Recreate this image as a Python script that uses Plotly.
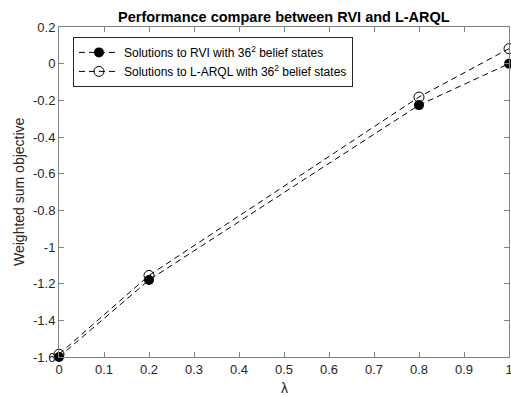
import plotly.graph_objects as go

lam = [0, 0.2, 0.8, 1.0]
rvi = [-1.60, -1.18, -0.226, 0.0]
larql = [-1.585, -1.155, -0.182, 0.082]
yticks = [-1.6, -1.4, -1.2, -1.0, -0.8, -0.6, -0.4, -0.2, 0, 0.2]
yticktext = ["-1.6", "-1.4", "-1.2", "-1", "-0.8", "-0.6", "-0.4", "-0.2", "0", "0.2"]
xticks = [0, 0.1, 0.2, 0.3, 0.4, 0.5, 0.6, 0.7, 0.8, 0.9, 1]
xticktext = ["0", "0.1", "0.2", "0.3", "0.4", "0.5", "0.6", "0.7", "0.8", "0.9", "1"]

FONT = "Liberation Sans, Arial"

fig = go.Figure()
fig.add_trace(go.Scatter(
    x=lam, y=rvi, mode="lines+markers",
    name="Solutions to RVI with 36<sup>2</sup> belief states",
    line=dict(color="black", width=1, dash="6px,4px"),
    marker=dict(symbol="circle", size=10, color="black"),
    cliponaxis=False,
))
fig.add_trace(go.Scatter(
    x=lam, y=larql, mode="lines+markers",
    name="Solutions to L-ARQL with 36<sup>2</sup> belief states",
    line=dict(color="black", width=1, dash="6px,4px"),
    marker=dict(symbol="circle-open", size=10, color="black", line=dict(width=1)),
    cliponaxis=False,
))

axis_common = dict(
    showline=True, linecolor="#808080", linewidth=1, mirror="ticks",
    ticks="inside", ticklen=5, tickcolor="#808080", showgrid=False, zeroline=False,
    automargin=False, ticklabeloverflow="allow",
    tickfont=dict(family=FONT, size=13, color="#262626"),
)

fig.update_layout(
    width=511, height=397,
    margin=dict(l=59, r=2, t=27, b=40),
    paper_bgcolor="white", plot_bgcolor="white",
    xaxis=dict(range=[0, 1], tickvals=xticks, ticktext=xticktext, **axis_common),
    yaxis=dict(range=[-1.6, 0.2], tickvals=yticks, ticktext=yticktext, **axis_common),
    legend=dict(x=0.031, y=0.97, xanchor="left", yanchor="top",
                bordercolor="#262626", borderwidth=1, bgcolor="white",
                font=dict(family=FONT, size=12, color="black"),
                tracegroupgap=0, itemwidth=40),
    showlegend=True,
    annotations=[
        dict(text="<b>Performance compare between RVI and L-ARQL</b>",
             xref="paper", yref="paper", x=0.5, y=1, yshift=10,
             xanchor="center", yanchor="middle", showarrow=False,
             font=dict(family=FONT, size=14.5, color="black")),
        dict(text="λ", xref="paper", yref="paper", x=0.5, y=0, yshift=-31,
             xanchor="center", yanchor="middle", showarrow=False,
             font=dict(family=FONT, size=14, color="#262626")),
        dict(text="Weighted sum objective", xref="paper", yref="paper",
             x=0, xshift=-40, y=0.5, textangle=-90,
             xanchor="center", yanchor="middle", showarrow=False,
             font=dict(family=FONT, size=14, color="#262626")),
    ],
)

fig.write_html("out.html", config={"displayModeBar": False},
               post_script="document.body.style.margin='0';document.body.style.overflow='hidden';")
